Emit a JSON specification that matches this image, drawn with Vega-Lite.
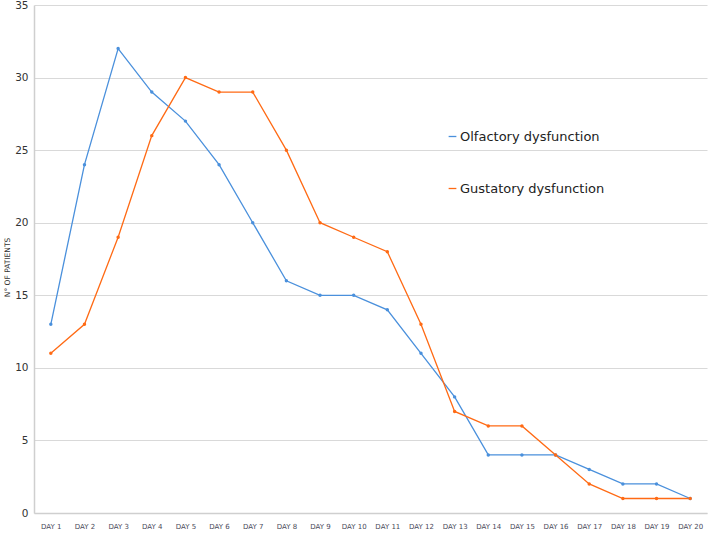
{
  "$schema": "https://vega.github.io/schema/vega-lite/v6.json",
  "width": 673,
  "height": 508,
  "autosize": {"type": "none"},
  "padding": {"left": 34, "top": 5, "right": 2, "bottom": 33},
  "background": "white",
  "config": {
    "font": "DejaVu Sans",
    "view": {"stroke": null}
  },
  "data": {
    "values": [
      {"day": "DAY 1", "series": "Olfactory dysfunction", "patients": 13},
      {"day": "DAY 2", "series": "Olfactory dysfunction", "patients": 24},
      {"day": "DAY 3", "series": "Olfactory dysfunction", "patients": 32},
      {"day": "DAY 4", "series": "Olfactory dysfunction", "patients": 29},
      {"day": "DAY 5", "series": "Olfactory dysfunction", "patients": 27},
      {"day": "DAY 6", "series": "Olfactory dysfunction", "patients": 24},
      {"day": "DAY 7", "series": "Olfactory dysfunction", "patients": 20},
      {"day": "DAY 8", "series": "Olfactory dysfunction", "patients": 16},
      {"day": "DAY 9", "series": "Olfactory dysfunction", "patients": 15},
      {"day": "DAY 10", "series": "Olfactory dysfunction", "patients": 15},
      {"day": "DAY 11", "series": "Olfactory dysfunction", "patients": 14},
      {"day": "DAY 12", "series": "Olfactory dysfunction", "patients": 11},
      {"day": "DAY 13", "series": "Olfactory dysfunction", "patients": 8},
      {"day": "DAY 14", "series": "Olfactory dysfunction", "patients": 4},
      {"day": "DAY 15", "series": "Olfactory dysfunction", "patients": 4},
      {"day": "DAY 16", "series": "Olfactory dysfunction", "patients": 4},
      {"day": "DAY 17", "series": "Olfactory dysfunction", "patients": 3},
      {"day": "DAY 18", "series": "Olfactory dysfunction", "patients": 2},
      {"day": "DAY 19", "series": "Olfactory dysfunction", "patients": 2},
      {"day": "DAY 20", "series": "Olfactory dysfunction", "patients": 1},
      {"day": "DAY 1", "series": "Gustatory dysfunction", "patients": 11},
      {"day": "DAY 2", "series": "Gustatory dysfunction", "patients": 13},
      {"day": "DAY 3", "series": "Gustatory dysfunction", "patients": 19},
      {"day": "DAY 4", "series": "Gustatory dysfunction", "patients": 26},
      {"day": "DAY 5", "series": "Gustatory dysfunction", "patients": 30},
      {"day": "DAY 6", "series": "Gustatory dysfunction", "patients": 29},
      {"day": "DAY 7", "series": "Gustatory dysfunction", "patients": 29},
      {"day": "DAY 8", "series": "Gustatory dysfunction", "patients": 25},
      {"day": "DAY 9", "series": "Gustatory dysfunction", "patients": 20},
      {"day": "DAY 10", "series": "Gustatory dysfunction", "patients": 19},
      {"day": "DAY 11", "series": "Gustatory dysfunction", "patients": 18},
      {"day": "DAY 12", "series": "Gustatory dysfunction", "patients": 13},
      {"day": "DAY 13", "series": "Gustatory dysfunction", "patients": 7},
      {"day": "DAY 14", "series": "Gustatory dysfunction", "patients": 6},
      {"day": "DAY 15", "series": "Gustatory dysfunction", "patients": 6},
      {"day": "DAY 16", "series": "Gustatory dysfunction", "patients": 4},
      {"day": "DAY 17", "series": "Gustatory dysfunction", "patients": 2},
      {"day": "DAY 18", "series": "Gustatory dysfunction", "patients": 1},
      {"day": "DAY 19", "series": "Gustatory dysfunction", "patients": 1},
      {"day": "DAY 20", "series": "Gustatory dysfunction", "patients": 1}
    ]
  },
  "mark": {"type": "line", "strokeWidth": 1.3, "point": {"filled": true, "size": 12}},
  "encoding": {
    "x": {
      "field": "day",
      "type": "ordinal",
      "sort": null,
      "scale": {"type": "point", "padding": 0.5},
      "axis": {
        "title": null,
        "labelAngle": 0,
        "labelFontSize": 7,
        "labelColor": "#4a4a5a",
        "labelPadding": 9,
        "ticks": false,
        "domainColor": "#cfcfcf",
        "domainWidth": 1.5,
        "grid": false
      }
    },
    "y": {
      "field": "patients",
      "type": "quantitative",
      "scale": {"domain": [0, 35]},
      "axis": {
        "title": "N° OF PATIENTS",
        "titleFontSize": 7.5,
        "titleFontWeight": "normal",
        "titleColor": "#333",
        "titleX": -23,
        "titleY": 262,
        "titleAlign": "center",
        "titleBaseline": "bottom",
        "titleAngle": -90,
        "values": [0, 5, 10, 15, 20, 25, 30, 35],
        "labelFontSize": 10.5,
        "labelColor": "#333",
        "labelPadding": 6,
        "ticks": false,
        "domainColor": "#cfcfcf",
        "domainWidth": 1.5,
        "gridColor": "#d9d9d9",
        "gridWidth": 1.2
      }
    },
    "color": {
      "field": "series",
      "type": "nominal",
      "scale": {
        "domain": ["Olfactory dysfunction", "Gustatory dysfunction"],
        "range": ["#4a90dc", "#ff6a14"]
      },
      "legend": {
        "title": null,
        "orient": "none",
        "legendX": 412,
        "legendY": 125,
        "symbolType": "stroke",
        "symbolSize": 60,
        "symbolStrokeWidth": 1.3,
        "labelFontSize": 13,
        "labelColor": "#222",
        "labelOffset": 1,
        "rowPadding": 38
      }
    }
  }
}
